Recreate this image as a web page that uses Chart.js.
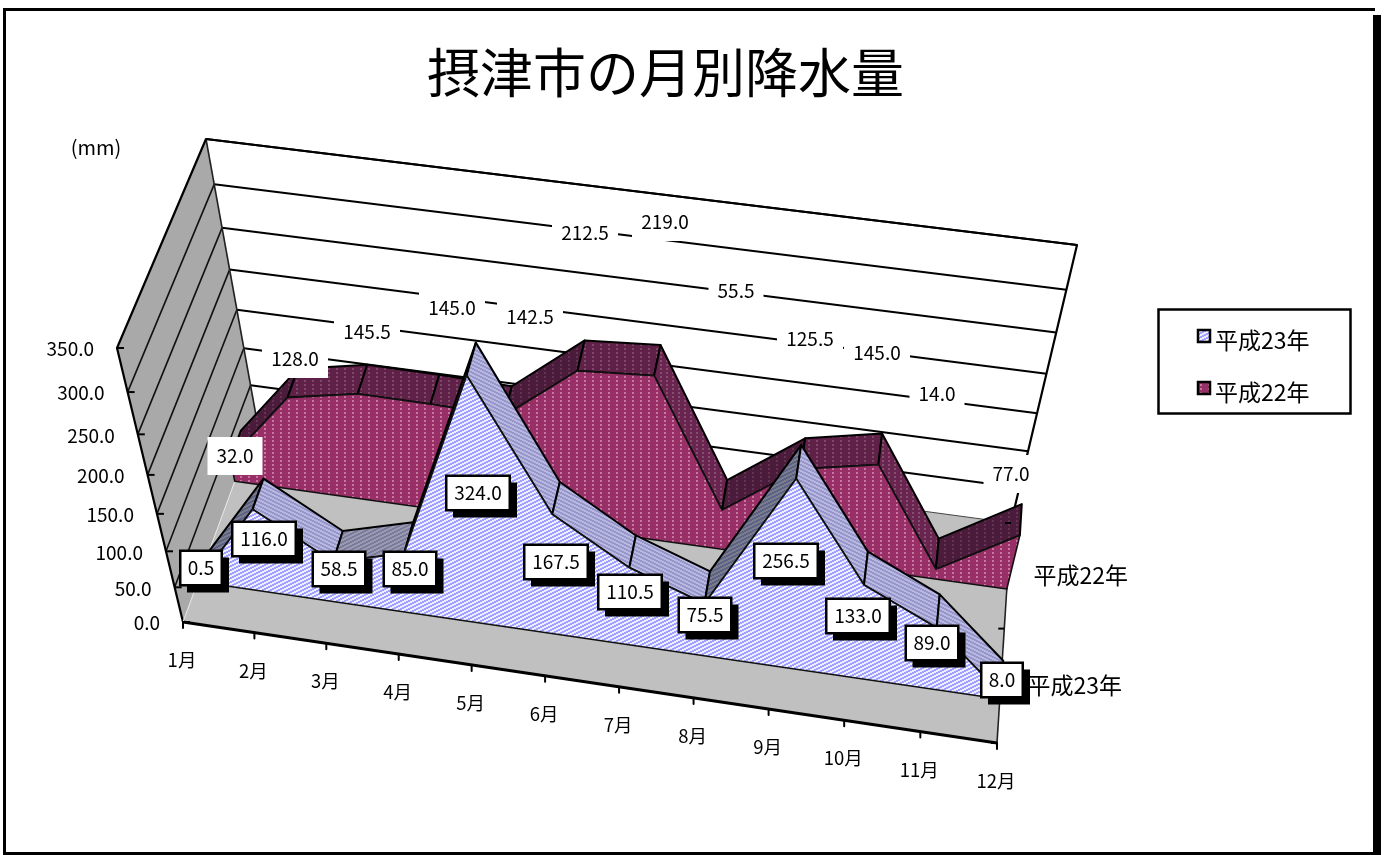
<!DOCTYPE html>
<html lang="ja">
<head>
<meta charset="utf-8">
<title>摂津市の月別降水量</title>
<script src="https://cdn.jsdelivr.net/npm/chart.js@4"></script>
<style>
  html, body { margin: 0; padding: 0; background: #fff; }
  canvas { display: block; }
</style>
</head>
<body>
<canvas id="rainChart" width="1387" height="855"></canvas>
<script>
// --- Data ---
const chartTitle = "摂津市の月別降水量";
const unitLabel = "(mm)";
const months = ["1月","2月","3月","4月","5月","6月","7月","8月","9月","10月","11月","12月"];
const rain23 = [0.5, 116.0, 58.5, 85.0, 324.0, 167.5, 110.5, 75.5, 256.5, 133.0, 89.0, 8.0];
const rain22 = [32.0, 128.0, 145.5, 145.0, 142.5, 212.5, 219.0, 55.5, 125.5, 145.0, 14.0, 77.0];
const yTicks = [0, 50, 100, 150, 200, 250, 300, 350];
const name23 = "平成23年";
const name22 = "平成22年";

// --- Layout (the value labels were placed by hand in the original) ---
const labelCenters23 = [[201,568],[264,539],[339,569],[410,569],[478,493],[556,562],[630,592],[705,615],[786,561],[858,616],[932,643],[1002,680]];
const labelCenters22 = [[235,456],[295,359],[367,332],[452,308],[530,317],[585,233],[665,222],[736,291],[810,339],[877,353],[937,394],[1011,474]];

const FONT = '"Noto Sans CJK JP", sans-serif';
const Y_MAX = 350;
const TITLE_H = 119;
const RIGHT_PAD = 56;

// box corners on screen, f/b = front/back, l/r = left/right
const floorFL = [183,622], floorFR = [997,743], floorBL = [257,421], floorBR = [1011,523];
const topFL = [117,348], topFR = [1064,485], topBL = [206,139], topBR = [1077,245];

const lerp = (a, b, t) => [a[0] + (b[0]-a[0])*t, a[1] + (b[1]-a[1])*t];
const warp = (t, k) => t / (t + k*(1-t));

// month index, rainfall, depth (0 front .. 1 back) -> scale values
function project(month, value, depth) {
  const u = warp(month / (months.length-1), 1.04);
  const w = warp(value / Y_MAX, 1.15);
  const base = lerp(lerp(floorFL, floorFR, u), lerp(floorBL, floorBR, u), depth);
  const top = lerp(lerp(topFL, topFR, u), lerp(topBL, topBR, u), depth);
  const p = lerp(base, top, w);
  return { x: p[0], y: p[1] };
}

// --- Patterns ---
function makePattern(w, h, base, paint) {
  const c = document.createElement("canvas");
  c.width = w; c.height = h;
  const g = c.getContext("2d");
  g.fillStyle = base;
  g.fillRect(0, 0, w, h);
  paint(g);
  return g.createPattern(c, "repeat");
}
function stripes(base, stripe, dir) {
  return makePattern(8, 4, base, g => {
    g.fillStyle = stripe;
    for (let x = 0; x < 8; x++) {
      const y = (dir * Math.floor(x/2) + 8) % 4;
      g.fillRect(x, y, 1, 1);
      g.fillRect(x, (y+1) % 4, 1, 1);
    }
  });
}
function dashes(base, dot, w, h) {
  return makePattern(w, h, base, g => {
    g.fillStyle = dot;
    g.fillRect(0, 0, 2, Math.ceil(h/2));
  });
}

const front23 = stripes("#eeeeff", "#a0a0ff", -1);
const front22 = dashes("#983067", "#c678a0", 8, 4);
const ribbon23 = {
  rise: stripes("#5a6285", "#7c7c8c", -1),
  mid: stripes("#9a9ab0", "#7a7a9c", -1),
  fall: stripes("#b8b8e0", "#9696ca", 1)
};
const ribbon22 = {
  rise: dashes("#4a1b3a", "#623450", 8, 4),
  mid: dashes("#5f2148", "#7c4a68", 8, 4),
  fall: dashes("#6a2450", "#85506e", 6, 4)
};

// --- Shapes, painted in this order ---
const layers = [];
function poly(points, fillColor, lineColor, lineWidth) {
  layers.push({
    data: points,
    showLine: true,
    fill: fillColor ? "shape" : false,
    backgroundColor: fillColor || "transparent",
    borderColor: lineColor || "transparent",
    borderWidth: lineWidth || 0,
    borderJoinStyle: "round",
    tension: 0,
    pointRadius: 0,
    pointHoverRadius: 0
  });
}
const closed = pts => pts.concat([pts[0]]);

function addSeries(values, depthFront, depthBack, frontFill, ribbons) {
  for (let i = 0; i < values.length-1; i++) {
    const delta = values[i+1] - values[i];
    const fill = delta > 40 ? ribbons.rise : delta > -10 ? ribbons.mid : ribbons.fall;
    poly(closed([
      project(i, values[i], depthFront),
      project(i+1, values[i+1], depthFront),
      project(i+1, values[i+1], depthBack),
      project(i, values[i], depthBack)
    ]), fill, "#000", 2);
  }
  const outline = values.map((v, i) => project(i, v, depthFront));
  outline.push(project(values.length-1, 0, depthFront), project(0, 0, depthFront));
  poly(closed(outline), frontFill, "#111", 1.6);
}

const last = months.length - 1;
// back wall
poly(closed([project(0,0,1), project(last,0,1), project(last,Y_MAX,1), project(0,Y_MAX,1)]), "#fff");
yTicks.slice(1).forEach(t => poly([project(0,t,1), project(last,t,1)], null, "#000", 2));
// floor
poly(closed([project(0,0,0), project(last,0,0), project(last,0,1), project(0,0,1)]), "#c0c0c0");
poly([project(0,0,1), project(last,0,1)], null, "#444", 1);
// left wall
poly(closed([project(0,0,0), project(0,0,1), project(0,Y_MAX,1), project(0,Y_MAX,0)]), "#a9a9a9");
yTicks.slice(1,-1).forEach(t => poly([project(0,t,0), project(0,t,1)], null, "#111", 1.6));
// frame
poly([project(0,0,1), project(0,Y_MAX,1)], null, "#222", 1.6);
poly([project(0,0,0), project(0,Y_MAX,0), project(0,Y_MAX,1), project(last,Y_MAX,1), project(last,0,1)], null, "#000", 2.2);
poly([project(last,0,1), project(last,0,0)], null, "#222", 1.6);
poly([project(0,0,0), project(last,0,0)], null, "#000", 2.8);
poly([project(0,0,0), project(0,0,1)], null, "#e8e8e8", 1);

addSeries(rain22, 0.70, 0.84, front22, ribbon22);
addSeries(rain23, 0.20, 0.35, front23, ribbon23);

// ticks
yTicks.forEach(t => {
  const p = project(0, t, 0);
  poly([p, { x: p.x + 7, y: p.y }], null, "#000", 2);
});
months.forEach((m, i) => {
  const p = project(i, 0, 0);
  poly([p, { x: p.x, y: p.y + 6 }], null, "#000", 2);
});
[0, 0.52, 1].forEach(d => {
  const p = project(last, 0, d);
  poly([p, { x: p.x - 6, y: p.y }], null, "#000", 2);
});

// --- Text, labels, legend and outer frame ---
function drawText(ctx, str, x, y, size, align) {
  ctx.font = `${size}px ${FONT}`;
  ctx.fillStyle = "#000";
  ctx.textAlign = align || "center";
  ctx.textBaseline = "middle";
  ctx.fillText(str, x, y);
}

const overlayPlugin = {
  id: "overlay",
  afterDraw(chart) {
    const ctx = chart.ctx;
    ctx.save();

    // outer frame with heavy right side
    ctx.fillStyle = "#000";
    ctx.fillRect(3, 8, 1372, 3);
    ctx.fillRect(3, 8, 3, 847);
    ctx.fillRect(1373, 15, 8, 840);
    ctx.fillRect(3, 852, 1378, 3);

    drawText(ctx, unitLabel, 96, 147, 20);

    const sx = chart.scales.x, sy = chart.scales.y;
    const px = p => ({ x: sx.getPixelForValue(p.x), y: sy.getPixelForValue(p.y) });

    yTicks.forEach(t => {
      const p = px(project(0, t, 0));
      drawText(ctx, t.toFixed(1), p.x - 23, p.y + 1, 19, "right");
    });
    months.forEach((m, i) => {
      const p = px(project(i, 0, 0));
      drawText(ctx, m, p.x - 1, p.y + 38, 18.5);
    });

    const p22 = px(project(last, 0, 0.70));
    const p23 = px(project(last, 0, 0.20));
    drawText(ctx, name22, p22.x + 74, p22.y - 14, 23);
    drawText(ctx, name23, p23.x + 75, p23.y - 14, 23);

    // 平成22年: plain white boxes
    rain22.forEach((v, i) => {
      const s = v.toFixed(1), c = labelCenters22[i];
      const w = 11 * s.length + 11;
      ctx.fillStyle = "#fff";
      ctx.fillRect(c[0] - w/2, c[1] - 19, w, 38);
      drawText(ctx, s, c[0], c[1], 19);
    });
    // 平成23年: framed boxes with a hard shadow
    rain23.forEach((v, i) => {
      const s = v.toFixed(1), c = labelCenters23[i];
      const w = 11 * s.length + 9, h = 35;
      const l = c[0] - w/2, t = c[1] - h/2;
      ctx.fillStyle = "#000";
      ctx.fillRect(l + 7, t + 7, w, h);
      ctx.fillRect(l - 1, t - 1, w + 2, h + 2);
      ctx.fillStyle = "#fff";
      ctx.fillRect(l + 1.5, t + 1.5, w - 3, h - 3);
      drawText(ctx, s, c[0], c[1], 19);
    });

    // legend
    ctx.fillStyle = "#fff";
    ctx.fillRect(1158, 309, 193, 105);
    ctx.strokeStyle = "#000";
    ctx.lineWidth = 2.5;
    ctx.strokeRect(1158.5, 309.5, 192, 104);
    [[name23, front23, 340], [name22, front22, 392]].forEach(row => {
      ctx.fillStyle = row[1];
      ctx.fillRect(1198, row[2] - 10, 12, 12);
      ctx.strokeStyle = "#000";
      ctx.lineWidth = 2.5;
      ctx.strokeRect(1198, row[2] - 10, 12, 12);
      drawText(ctx, row[0], 1215, row[2], 23, "left");
    });

    ctx.restore();
  }
};

// --- Chart ---
new Chart(document.getElementById("rainChart"), {
  type: "scatter",
  data: { datasets: layers.slice().reverse() }, // first dataset is painted last
  options: {
    responsive: false,
    animation: false,
    events: [],
    layout: { padding: { right: RIGHT_PAD } },
    scales: {
      x: { display: false, min: 0, max: 1387 - RIGHT_PAD },
      y: { display: false, min: TITLE_H, max: 855, reverse: true }
    },
    plugins: {
      legend: { display: false },
      tooltip: { enabled: false },
      title: {
        display: true,
        text: chartTitle,
        fullSize: false,
        color: "#000",
        font: { family: FONT, size: 53, weight: "normal", lineHeight: 1 },
        padding: { top: 46, bottom: 20 }
      }
    }
  },
  plugins: [overlayPlugin]
});
</script>
</body>
</html>
